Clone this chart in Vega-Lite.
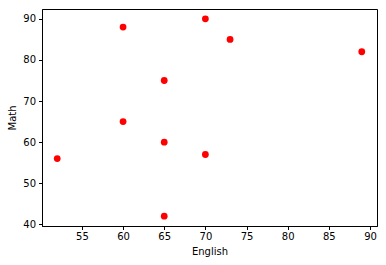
{
  "$schema": "https://vega.github.io/schema/vega-lite/v6.json",
  "width": 335,
  "height": 217,
  "autosize": "none",
  "padding": {"left": 42, "top": 9, "right": 9, "bottom": 39},
  "background": "white",
  "config": {
    "font": "DejaVu Sans",
    "view": {"stroke": "black", "strokeWidth": 1},
    "axis": {
      "grid": false,
      "domainColor": "black",
      "tickColor": "black",
      "tickSize": 3.5,
      "labelFontSize": 10,
      "labelColor": "black",
      "titleFontSize": 10,
      "titleFontWeight": "normal",
      "titleColor": "black",
      "labelFont": "DejaVu Sans",
      "titleFont": "DejaVu Sans"
    }
  },
  "data": {
    "values": [
      {"English": 52, "Math": 56},
      {"English": 60, "Math": 88},
      {"English": 60, "Math": 65},
      {"English": 65, "Math": 75},
      {"English": 65, "Math": 60},
      {"English": 65, "Math": 42},
      {"English": 70, "Math": 90},
      {"English": 70, "Math": 57},
      {"English": 73, "Math": 85},
      {"English": 89, "Math": 82}
    ]
  },
  "mark": {"type": "point", "filled": true, "shape": "circle", "color": "#ff0000", "opacity": 1, "size": 46},
  "encoding": {
    "x": {
      "field": "English", "type": "quantitative",
      "scale": {"domain": [50.15, 90.85], "nice": false, "zero": false},
      "axis": {"values": [55, 60, 65, 70, 75, 80, 85, 90], "labelPadding": 2, "titlePadding": 5}
    },
    "y": {
      "field": "Math", "type": "quantitative",
      "scale": {"domain": [39.6, 92.4], "nice": false, "zero": false},
      "axis": {"values": [40, 50, 60, 70, 80, 90], "labelPadding": 3, "titlePadding": 5}
    }
  }
}
